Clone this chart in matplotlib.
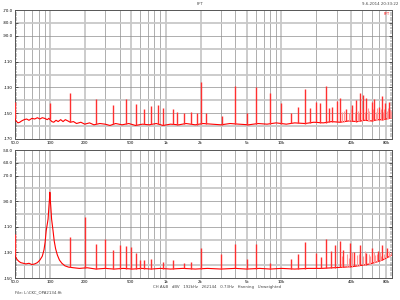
import numpy as np
import matplotlib
matplotlib.use("Agg")
import matplotlib.pyplot as plt

# ---------------- data ----------------
x_tick_freqs = [50, 100, 200, 500, 1000, 2000, 5000, 10000, 40000, 80000]
x_tick_labels = ["50.0", "100", "200", "500", "1k", "2k", "5k", "10k", "40k", "80k"]

top_ytick_vals = [-70, -80, -90, -110, -130, -150, -170]
top_ytick_labels = ["-70.0", "-80.0", "-90.0", "-110", "-130", "-150", "-170"]
bot_ytick_vals = [-50, -60, -70, -90, -110, -130, -150]
bot_ytick_labels = ["-50.0", "-60.0", "-70.0", "-90.0", "-110", "-130", "-150"]

top_floor_f = [50, 51, 53, 55, 57, 60, 63, 66, 70, 74,
               78, 82, 86, 90, 95, 98, 104, 108, 113, 118,
               124, 130, 136, 143, 150, 160, 170, 185, 200, 220,
               240, 270, 300, 330, 370, 420, 480, 550, 630, 720,
               830, 950, 1100, 1300, 1500, 1800, 2100, 2500, 3000, 3600,
               4300, 5200, 6300, 7500, 9000, 11000, 13000, 16000, 19000, 23000,
               27000, 32000, 38000, 45000, 52000, 60000, 68000, 76000, 84000, 90000]
top_floor_db = [-154, -156, -157.5, -157, -156, -155, -154.5, -155.5, -154, -154.5,
                -153.5, -154.5, -153.5, -154, -155, -154, -156.5, -157, -155.5, -156.5,
                -155, -156.5, -155, -156, -157, -156.5, -158, -157, -158.5, -157.5,
                -159, -158, -158.5, -159.5, -158, -159, -158, -159.5, -158.5, -159,
                -158, -159.5, -158.5, -159, -158, -159, -158, -158.5, -159, -158,
                -158.5, -159, -158, -158.5, -157.5, -158.5, -157.5, -158, -157, -157.5,
                -156.5, -157, -156, -156.5, -155.5, -156, -155, -155, -154, -153.5]

top_spike_f = [50, 100, 150, 250, 350, 450, 550, 650, 750, 850,
               950, 1150, 1250, 1450, 1650, 1850, 2000, 2250, 3050, 4000,
               5000, 6000, 8000, 10000, 12000, 14000, 16000, 17500, 20000, 21700,
               24000, 25500, 27500, 30000, 32300, 36400, 41000, 44400, 48000, 51000,
               54000, 60000, 63400, 70000, 74300, 79000, 85500]
top_spike_db = [-141, -142, -134, -139, -144, -139, -143, -147, -144.5, -143.5,
                -146, -147, -149, -150, -149, -150, -126, -150, -152, -129,
                -150, -130, -134, -142, -150, -145, -131, -146, -141, -142,
                -129, -146, -145, -140.5, -138, -147, -143.5, -140, -134, -136,
                -138, -141, -139, -145, -137, -142, -141]

top_small_f = [33000, 35000, 38000, 39500, 43000, 46000, 47000, 50000, 53000, 56000,
               57500, 62000, 65000, 67000, 69000, 72000, 76000, 77500, 81000, 83000,
               87000, 89000]
top_small_db = [-149, -148, -150, -147, -149, -148, -150, -147, -149, -146,
                -148, -147, -149, -146, -148, -147, -149, -147, -148, -146,
                -147, -148]

bot_floor_f = [50, 51, 52, 54, 56, 59, 62, 66, 70, 74,
               78, 82, 86, 89, 91, 93, 96.5, 98, 99.3, 100,
               100.7, 102, 103.5, 106.5, 109, 112, 116, 121, 127, 135,
               145, 160, 180, 210, 250, 300, 360, 430, 520, 620,
               750, 900, 1100, 1400, 1800, 2300, 3000, 4000, 5000, 6500,
               8000, 10000, 13000, 17000, 22000, 28000, 35000, 42000, 50000, 58000,
               66000, 74000, 82000, 90000]
bot_floor_db = [-132, -134, -135.5, -137, -138, -138.5, -139, -138.5, -139.5, -139,
                -138, -136, -133, -128, -122, -113, -104, -95, -88, -83,
                -88, -95, -104, -113, -121, -127, -132, -136, -138.5, -140.5,
                -141.5, -142, -142.5, -142, -143, -142.5, -143, -142.5, -143, -142.5,
                -143, -142.5, -143, -142.5, -143, -142.5, -143, -142.5, -143, -142.5,
                -143, -142.5, -143, -142.5, -142.5, -142, -141.5, -141, -140, -139,
                -137.5, -136, -134, -132]

bot_spike_f = [50, 150, 200, 250, 300, 350, 400, 450, 500, 550,
               600, 650, 750, 950, 1150, 1450, 1650, 2000, 3000, 4000,
               5000, 6000, 8000, 12000, 14000, 16000, 20000, 22000, 24000, 26500,
               29250, 31700, 34300, 39400, 42700, 48000, 54000, 60000, 68700, 74300,
               82100]
bot_spike_db = [-116, -118, -102, -123.5, -119.5, -128, -124, -125, -126, -130.5,
                -136, -136, -135, -137.5, -136, -138, -137.5, -126.5, -131, -123.5,
                -135, -123.5, -138, -135, -131, -122, -130.5, -133.5, -119.5, -129,
                -124, -121, -128, -122.5, -129.5, -124, -130.5, -126.5, -129, -124,
                -126.5]

bot_small_f = [33000, 36500, 38000, 41000, 44500, 46500, 50500, 52500, 56500, 58500,
               62500, 64500, 66500, 71000, 72500, 77000, 79500, 84500, 87000, 89000]
bot_small_db = [-133, -131, -134, -130, -132, -131, -133, -129, -131, -133,
                -130, -132, -131, -130, -133, -131, -130, -129, -131, -130]

# ---------------- drawing ----------------
RED = "#ff0000"
SPIKE = "#ff3030"
SMALL = "#ff9a9a"
FS = 2.8

fig = plt.figure(figsize=(4, 3), dpi=100)
fig.patch.set_facecolor("white")

ax1 = fig.add_axes([15 / 400, 1 - 139 / 300, 377 / 400, 129 / 300])
ax2 = fig.add_axes([15 / 400, 1 - 278 / 300, 377 / 400, 128 / 300])

labeled = set(x_tick_freqs)
grid_freqs = []
for dec in [10, 100, 1000, 10000]:
    for m in range(1, 10):
        f = m * dec
        if 50 < f < 90000:
            grid_freqs.append(f)


def style(ax, ylo, yhi, yvals, ylabels):
    ax.set_xscale("log")
    ax.set_xlim(50, 90000)
    ax.set_ylim(ylo, yhi)
    for f in grid_freqs:
        if f in labeled:
            ax.axvline(f, color="#c8c8c8", lw=1.3, zorder=0)
        else:
            ax.axvline(f, color="#8e8e8e", lw=0.5, zorder=0)
    for v in range(int(ylo) + 10, int(yhi), 10):
        if v % 20 == 0:
            ax.axhline(v, color="#c8c8c8", lw=1.3, zorder=0)
        else:
            ax.axhline(v, color="#8e8e8e", lw=0.5, zorder=0)
    ax.set_xticks(x_tick_freqs)
    ax.set_xticklabels(x_tick_labels)
    ax.xaxis.set_minor_locator(matplotlib.ticker.NullLocator())
    ax.tick_params(axis="x", length=0, labelsize=FS, pad=1.5)
    ax.set_yticks(yvals)
    ax.set_yticklabels(ylabels)
    ax.set_yticks(np.arange(ylo, yhi + 0.1, 2), minor=True)
    ax.tick_params(axis="y", which="major", length=2, direction="in",
                   labelsize=FS, pad=1.5, right=True, width=0.4)
    ax.tick_params(axis="y", which="minor", length=1.2, direction="in",
                   right=True, width=0.3)
    for s in ax.spines.values():
        s.set_color("#555555")
        s.set_linewidth(0.7)


def draw(ax, ff, fdb, sf, sdb, smf, smdb):
    ff = np.array(ff, dtype=float)
    fdb = np.array(fdb, dtype=float)
    lf = np.log10(ff)
    ax.plot(ff, fdb, color=RED, lw=0.8, zorder=3)
    for fr, lv, col, lw in [(smf, smdb, SMALL, 0.8), (sf, sdb, SPIKE, 1.0)]:
        fr = np.array(fr, dtype=float)
        base = np.interp(np.log10(fr), lf, fdb)
        ax.vlines(fr, base, np.array(lv, dtype=float), color=col, lw=lw,
                  zorder=4)


style(ax1, -170, -70, top_ytick_vals, top_ytick_labels)
style(ax2, -150, -50, bot_ytick_vals, bot_ytick_labels)
draw(ax1, top_floor_f, top_floor_db, top_spike_f, top_spike_db, top_small_f, top_small_db)
draw(ax2, bot_floor_f, bot_floor_db, bot_spike_f, bot_spike_db, bot_small_f, bot_small_db)

ax1.text(0.995, 0.985, "FFT", transform=ax1.transAxes, ha="right", va="top",
         fontsize=2.5, color=RED)

fig.text(0.5, 1 - 4 / 300, "FFT", ha="center", va="center", fontsize=FS, color="#444444")
fig.text(398 / 400, 1 - 4 / 300, "9-6-2014 20:33:22", ha="right", va="center",
         fontsize=FS, color="#444444")
fig.text(153 / 400, 1 - 287 / 300,
         "CH A&B   dBV   192kHz   262144   0.73Hz   Hanning   Unweighted",
         ha="left", va="center", fontsize=FS, color="#444444")
fig.text(15 / 400, 1 - 292 / 300, "File: L:\\CKC_OPA2134.fft", ha="left",
         va="center", fontsize=FS, color="#444444")

fig.savefig("out.png", dpi=100, facecolor="white")
